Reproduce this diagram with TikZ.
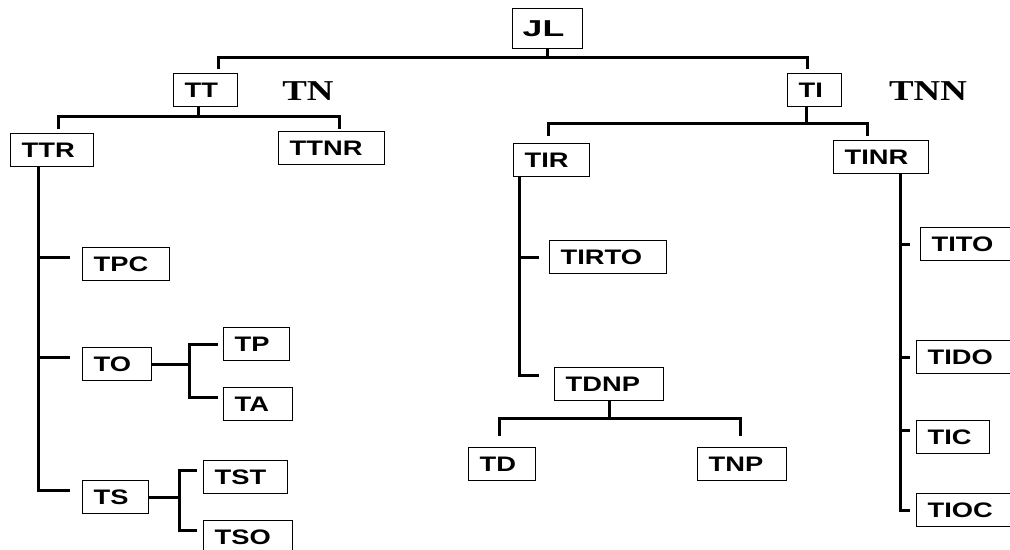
\documentclass[tikz,border=0pt]{standalone}
\usepackage{fontspec}
\setmainfont{Liberation Sans}[FakeStretch=1.3]
\newfontfamily\jlfont{Liberation Sans}[FakeStretch=1.55]
\newfontfamily\tnfont{Liberation Serif}[FakeStretch=1.28]
\usepackage{tikz}

\begin{document}
\begin{tikzpicture}[x=0.5pt, y=-0.5pt,
    box/.style={draw, line width=0.7pt, anchor=north west, minimum height=16.5pt,
        inner xsep=5.5pt, inner ysep=0pt, text width=#1*0.5pt-11pt, align=left,
        font=\bfseries\fontsize{10.5}{12}\selectfont},
    link/.style={line width=1.5pt},
    lbl/.style={font=\tnfont\bfseries\fontsize{14.4}{16}\selectfont}]
                    \useasboundingbox (0,0) rectangle (1010,550);

                    % Boxes
                    \node[box=72, minimum height=20pt, inner xsep=5pt,
                        font=\jlfont\bfseries\fontsize{11.5}{13}\selectfont] (JL) at (512,8) {JL};
                    \node[box=64] (TT) at (173,73) {TT};
                    \node[box=54] (TI) at (787,73) {TI};
                    \node[box=83] (TTR) at (10,133) {TTR};
                    \node[box=106] (TTNR) at (278,131) {TTNR};
                    \node[box=76] (TIR) at (513,143) {TIR};
                    \node[box=95] (TINR) at (833,140) {TINR};
                    \node[box=87] (TPC) at (82,247) {TPC};
                    \node[box=69] (TO) at (82,347) {TO};
                    \node[box=66] (TP) at (223,327) {TP};
                    \node[box=69] (TA) at (223,387) {TA};
                    \node[box=66] (TS) at (82,480) {TS};
                    \node[box=84] (TST) at (203,460) {TST};
                    \node[box=89] (TSO) at (203,520) {TSO};
                    \node[box=117] (TIRTO) at (549,240) {TIRTO};
                    \node[box=109] (TDNP) at (554,367) {TDNP};
                    \node[box=67] (TD) at (468,447) {TD};
                    \node[box=89] (TNP) at (697,447) {TNP};
                    \node[box=100] (TITO) at (920,227) {TITO};
                    \node[box=100] (TIDO) at (916,340) {TIDO};
                    \node[box=73] (TIC) at (916,420) {TIC};
                    \node[box=100] (TIOC) at (916,493) {TIOC};

                    % Labels
                    \node[lbl] (TN) at (308,91) {TN};
                    \node[lbl] (TNN) at (928,91) {TNN};

                    % Top levels
                    \draw[link, shorten >=2pt] (JL.south) -- ++(0,8) -| ([xshift=6.5pt]TT.north);
                    \draw[link, shorten >=2pt] (JL.south) -- ++(0,8) -| ([xshift=-3.5pt]TI.north);
                    \draw[link, shorten >=2pt] ([xshift=-3.5pt]TT.south) -- ++(0,9) -| ([xshift=3.25pt]TTR.north);
                    \draw[link, shorten >=1pt] ([xshift=-3.5pt]TT.south) -- ++(0,9) -| ([xshift=4pt]TTNR.north);
                    \draw[link, shorten >=3.5pt] ([xshift=-4pt]TI.south) -- ++(0,16) -| ([xshift=-1.5pt]TIR.north);
                    \draw[link, shorten >=2pt] ([xshift=-4pt]TI.south) -- ++(0,16) -| ([xshift=-6.75pt]TINR.north);

                    % TTR branch
                    \foreach \n in {TPC, TO, TS}
                        \draw[link, shorten >=6pt] ([xshift=-6.75pt]TTR.south) |- ([yshift=3.25pt]\n.west);
                    \draw[link, shorten >=2.5pt] (TO.east) -- ++(37,0) |- (TP.west);
                    \draw[link, shorten >=2.5pt] (TO.east) -- ++(37,0) |- ([yshift=3.25pt]TA.west);
                    \draw[link, shorten >=3pt] (TS.east) -- ++(30,0) |- ([yshift=3.25pt]TST.west);
                    \draw[link, shorten >=3pt] (TS.east) -- ++(30,0) |- ([yshift=3.5pt]TSO.west);

                    % TIR branch
                    \draw[link, shorten >=5pt] ([xshift=3pt]TIR.south west) |- (TIRTO.west);
                    \draw[link, shorten >=7.5pt] ([xshift=3pt]TIR.south west) |- ([yshift=4.25pt]TDNP.west);
                    \draw[link, shorten >=5.5pt] (TDNP.south) -- ++(0,17) -| ([xshift=-1.25pt]TD.north);
                    \draw[link, shorten >=5.5pt] (TDNP.south) -- ++(0,17) -| ([xshift=-0.75pt]TNP.north);

                    % TINR branch
                    \draw[link, shorten >=5pt] ([xshift=9.75pt]TINR.south) |- (TITO.west);
                    \foreach \n/\s in {TIDO/0pt, TIC/3.25pt, TIOC/0pt}
                        \draw[link, shorten >=3pt] ([xshift=9.75pt]TINR.south) |- ([yshift=\s]\n.west);
                \end{tikzpicture}
\end{document}
